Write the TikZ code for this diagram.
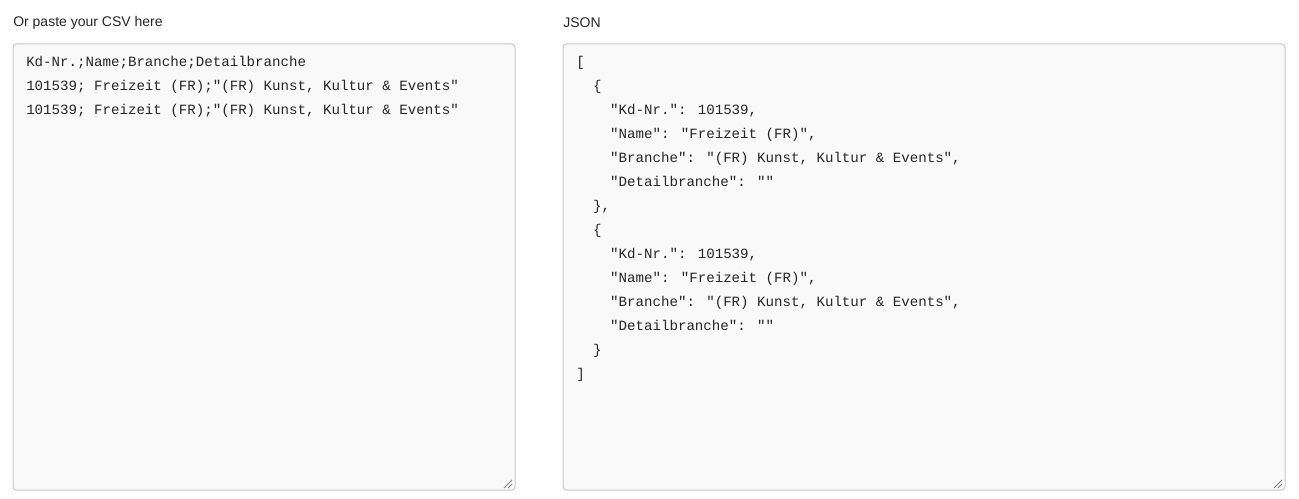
\documentclass[tikz,border=0pt]{standalone}
\usepackage{fontspec}
\setmainfont{Liberation Sans}
\newfontfamily\codefont{Liberation Mono}
\begin{document}
\begin{tikzpicture}[x=0.75pt,y=-0.75pt,
  lbl/.style={anchor=west,inner sep=0,font=\fontsize{10.5}{12}\selectfont,text=black!85},
  area/.style={draw=black!22,fill=black!2.5,rounded corners=2.5pt,line width=0.75pt},
  code/.style={anchor=north west,inner sep=0,align=left,text=black!85,
    font=\codefont\fontsize{10.6}{18}\selectfont},
  grip/.style={draw=black!50,line width=0.6pt}]
\useasboundingbox (0,0) rectangle (1299,499);
\node[lbl] (l1) at (13,23) {Or paste your CSV here};
\node[lbl] (l2) at (563,23) {JSON};
\draw[area] (13,44) rectangle (515,490);
\draw[area] (563,44) rectangle (1285,490);
\node[code] (csv) at (26,56) {Kd-Nr.;Name;Branche;Detailbranche\\101539; Freizeit (FR);"(FR) Kunst, Kultur \& Events"\\101539; Freizeit (FR);"(FR) Kunst, Kultur \& Events"};
\node[code] (json) at (576,56) {[\\
\ \ \{\\
\ \ \ \ "Kd-Nr.": 101539,\\
\ \ \ \ "Name": "Freizeit (FR)",\\
\ \ \ \ "Branche": "(FR) Kunst, Kultur \& Events",\\
\ \ \ \ "Detailbranche": ""\\
\ \ \},\\
\ \ \{\\
\ \ \ \ "Kd-Nr.": 101539,\\
\ \ \ \ "Name": "Freizeit (FR)",\\
\ \ \ \ "Branche": "(FR) Kunst, Kultur \& Events",\\
\ \ \ \ "Detailbranche": ""\\
\ \ \}\\
]};
\foreach \gx in {513,1283}{
  \draw[grip] (\gx-9,488) -- (\gx-1,480);
  \draw[grip] (\gx-5,488) -- (\gx-1,484);
}
\end{tikzpicture}
\end{document}
